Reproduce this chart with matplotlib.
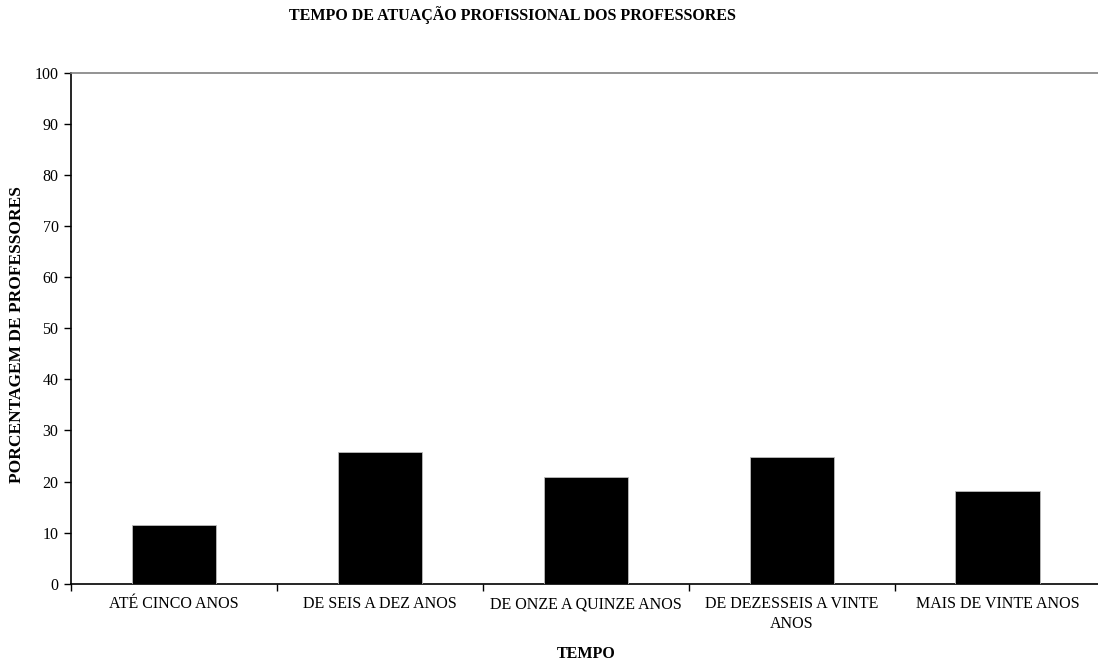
import matplotlib
matplotlib.use("Agg")
import matplotlib.pyplot as plt
import numpy as np

categories = ["ATÉ CINCO ANOS", "DE SEIS A DEZ ANOS", "DE ONZE A QUINZE ANOS",
              "DE DEZESSEIS A VINTE\nANOS", "MAIS DE VINTE ANOS"]
values = [11.5, 25.8, 20.9, 24.7, 18.1]
yticks = [0, 10, 20, 30, 40, 50, 60, 70, 80, 90, 100]

plt.rcParams["font.family"] = ["Liberation Serif", "DejaVu Serif"]

W, H = 1098, 661
fig = plt.figure(figsize=(W / 100, H / 100), dpi=100)
left, right, top, bottom = 71, 1100.6, 72.7, 583.7
ax = fig.add_axes([left / W, 1 - bottom / H, (right - left) / W, (bottom - top) / H])

x = np.arange(len(categories))
ax.bar(x, values, width=0.41, color="black", edgecolor="#bdbdbd", linewidth=0.6, zorder=3)

ax.set_xlim(-0.5, len(categories) - 0.5)
ax.set_ylim(0, 100)
ax.set_yticks(yticks)
ax.tick_params(axis="y", direction="out", length=5, width=1, labelsize=11.5, pad=4)

ax.set_xticks(np.arange(len(categories) + 1) - 0.5)
ax.set_xticklabels([])
ax.tick_params(axis="x", which="major", direction="out", length=5, width=1)
ax.set_xticks(x, minor=True)
ax.set_xticklabels(categories, minor=True, fontsize=11.5)
ax.tick_params(axis="x", which="minor", length=0, pad=9)
for lbl in ax.get_xticklabels(minor=True):
    lbl.set_linespacing(1.3)

ax.spines["right"].set_visible(False)
ax.spines["top"].set_color("#808080")
ax.spines["top"].set_linewidth(1.2)
ax.spines["left"].set_linewidth(1.2)
ax.spines["bottom"].set_linewidth(1.2)

fig.text(512 / W, 1 - 15 / H, "TEMPO DE ATUAÇÃO PROFISSIONAL DOS PROFESSORES",
         ha="center", va="center", fontsize=11.5, fontweight="bold")
fig.text(586 / W, 1 - 654 / H, "TEMPO", ha="center", va="center",
         fontsize=11.5, fontweight="bold")
fig.text(17 / W, 1 - 335 / H, "PORCENTAGEM DE PROFESSORES", ha="center", va="center",
         rotation=90, fontsize=12.5, fontweight="bold")

fig.savefig("out.png", dpi=100)
